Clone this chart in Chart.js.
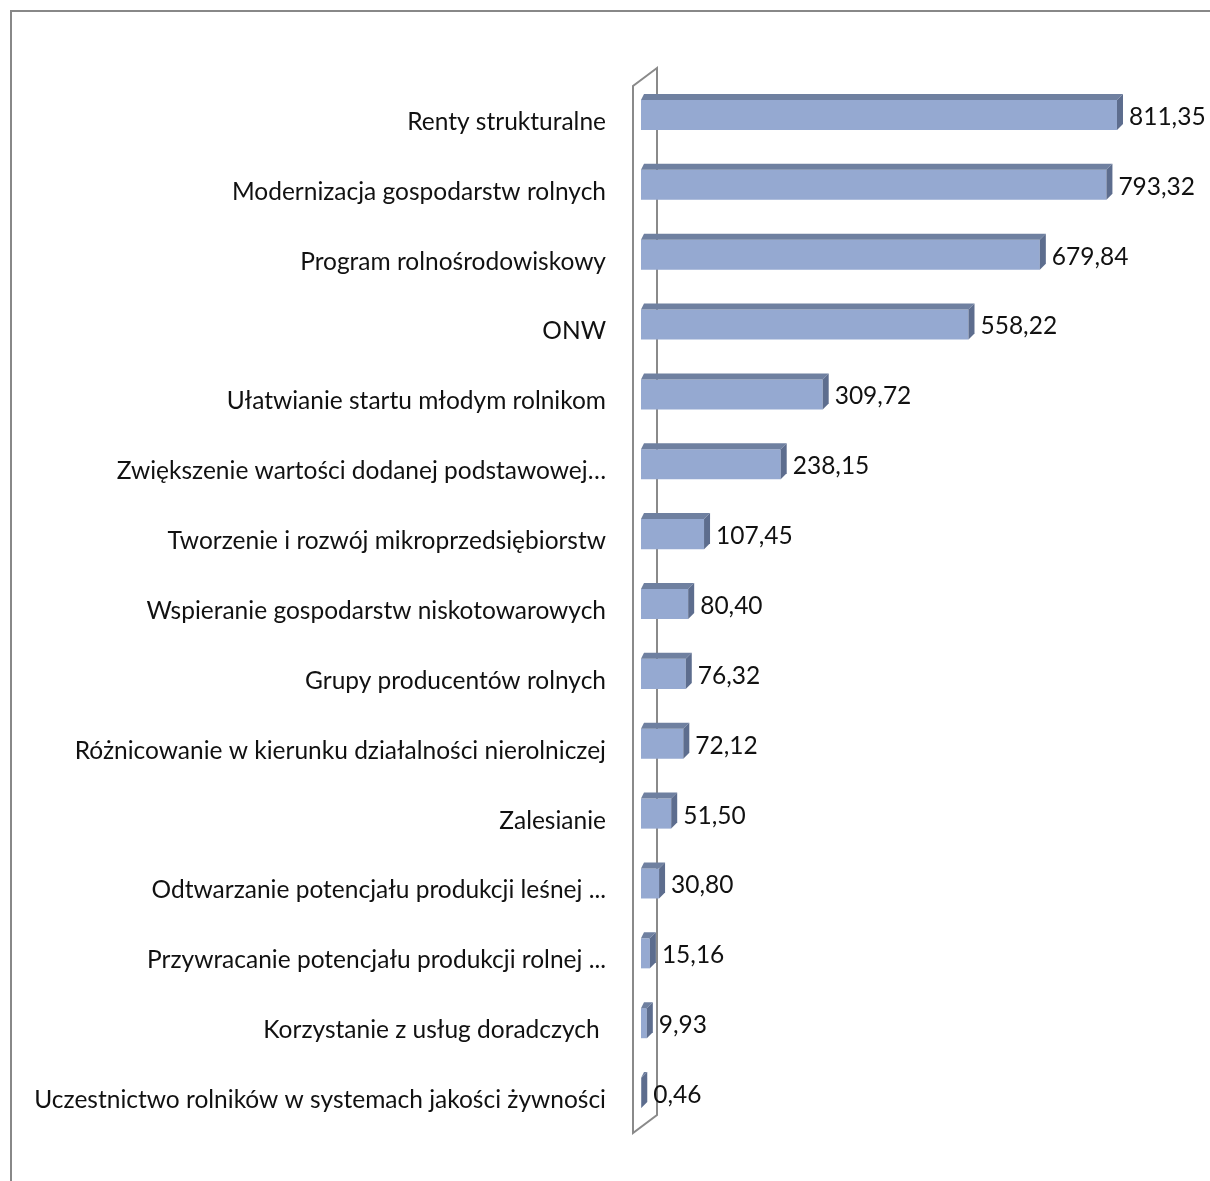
<!DOCTYPE html>
<html>
<head>
<meta charset="utf-8">
<script src="https://cdn.jsdelivr.net/npm/chart.js@4"></script>
<style>
  body { margin: 0; background: #fff; }
  canvas { display: block; }
</style>
</head>
<body>
<canvas id="chart" width="1210" height="1181"></canvas>
<script>
const categories = [
  "Renty strukturalne",
  "Modernizacja gospodarstw rolnych",
  "Program rolnośrodowiskowy",
  "ONW",
  "Ułatwianie startu młodym rolnikom",
  "Zwiększenie wartości dodanej podstawowej…",
  "Tworzenie i rozwój mikroprzedsiębiorstw",
  "Wspieranie gospodarstw niskotowarowych",
  "Grupy producentów rolnych",
  "Różnicowanie w kierunku działalności nierolniczej",
  "Zalesianie",
  "Odtwarzanie potencjału produkcji leśnej ...",
  "Przywracanie potencjału produkcji rolnej ...",
  "Korzystanie z usług doradczych ",
  "Uczestnictwo rolników w systemach jakości żywności",
];
const values = [811.35, 793.32, 679.84, 558.22, 309.72, 238.15, 107.45, 80.40, 76.32, 72.12, 51.50, 30.80, 15.16, 9.93, 0.46];

const FONT = "Lato";
const FONT_SIZE = 24.5;
const DX = 6, DY = 6;

// ramka, ściana 3D, górne i boczne ściany słupków, etykiety wartości
const bars3d = {
  id: "bars3d",
  beforeDraw(chart) {
    const c = chart.ctx;
    c.save();
    c.fillStyle = "#fff";
    c.fillRect(0, 0, chart.width, chart.height);
    c.strokeStyle = "#888";
    c.lineWidth = 2;
    c.beginPath();
    c.moveTo(11, chart.height);
    c.lineTo(11, 11);
    c.lineTo(chart.width, 11);
    c.stroke();
    c.restore();
  },
  beforeDatasetsDraw(chart) {
    const c = chart.ctx;
    const x0 = chart.scales.x.getPixelForValue(0);
    const { top, bottom } = chart.chartArea;
    c.save();
    c.strokeStyle = "#8a8a8a";
    c.lineWidth = 2;
    c.beginPath();
    c.moveTo(x0 + 16, top - 12);
    c.lineTo(x0 - 8, top + 6);
    c.lineTo(x0 - 8, bottom + 5);
    c.lineTo(x0 + 16, bottom - 13);
    c.closePath();
    c.stroke();
    c.restore();
  },
  afterDatasetsDraw(chart) {
    const c = chart.ctx;
    const meta = chart.getDatasetMeta(0);
    c.save();
    meta.data.forEach((bar, i) => {
      const { x, y, base, height } = bar.getProps(["x", "y", "base", "height"], true);
      const t = y - height / 2, b = y + height / 2;
      c.fillStyle = "#6f80a0";
      c.beginPath();
      c.moveTo(base, t);
      c.lineTo(x, t);
      c.lineTo(x + DX, t - DY);
      c.lineTo(base + DX / 2, t - DY);
      c.closePath();
      c.fill();
      c.fillStyle = "#5d6d8e";
      c.beginPath();
      c.moveTo(x, t);
      c.lineTo(x + DX, t - DY);
      c.lineTo(x + DX, b - DY);
      c.lineTo(x, b);
      c.closePath();
      c.fill();
      c.fillStyle = "#111";
      c.font = FONT_SIZE + "px " + FONT;
      c.textAlign = "left";
      c.textBaseline = "middle";
      c.fillText(values[i].toFixed(2).replace(".", ","), x + DX + 6, y + 2);
    });
    c.restore();
  },
};

new Chart(document.getElementById("chart"), {
  type: "bar",
  data: {
    labels: categories,
    datasets: [
      {
        data: values,
        backgroundColor: "#95a9d1",
        borderWidth: 0,
        barPercentage: 0.43,
        categoryPercentage: 1,
      },
    ],
  },
  options: {
    indexAxis: "y",
    responsive: false,
    animation: false,
    devicePixelRatio: 1,
    layout: { padding: { top: 80, bottom: 53, left: 14, right: 41 } },
    scales: {
      x: {
        min: 0,
        max: 900,
        display: false,
      },
      y: {
        afterFit(scale) {
          scale.width = 641 - 14;
        },
        grid: { display: false, drawTicks: false },
        border: { display: false },
        ticks: {
          padding: 35,
          labelOffset: 7,
          color: "#111",
          font: { family: FONT, size: FONT_SIZE },
          autoSkip: false,
        },
      },
    },
    plugins: {
      legend: { display: false },
      tooltip: { enabled: false },
    },
  },
  plugins: [bars3d],
});
</script>
</body>
</html>
